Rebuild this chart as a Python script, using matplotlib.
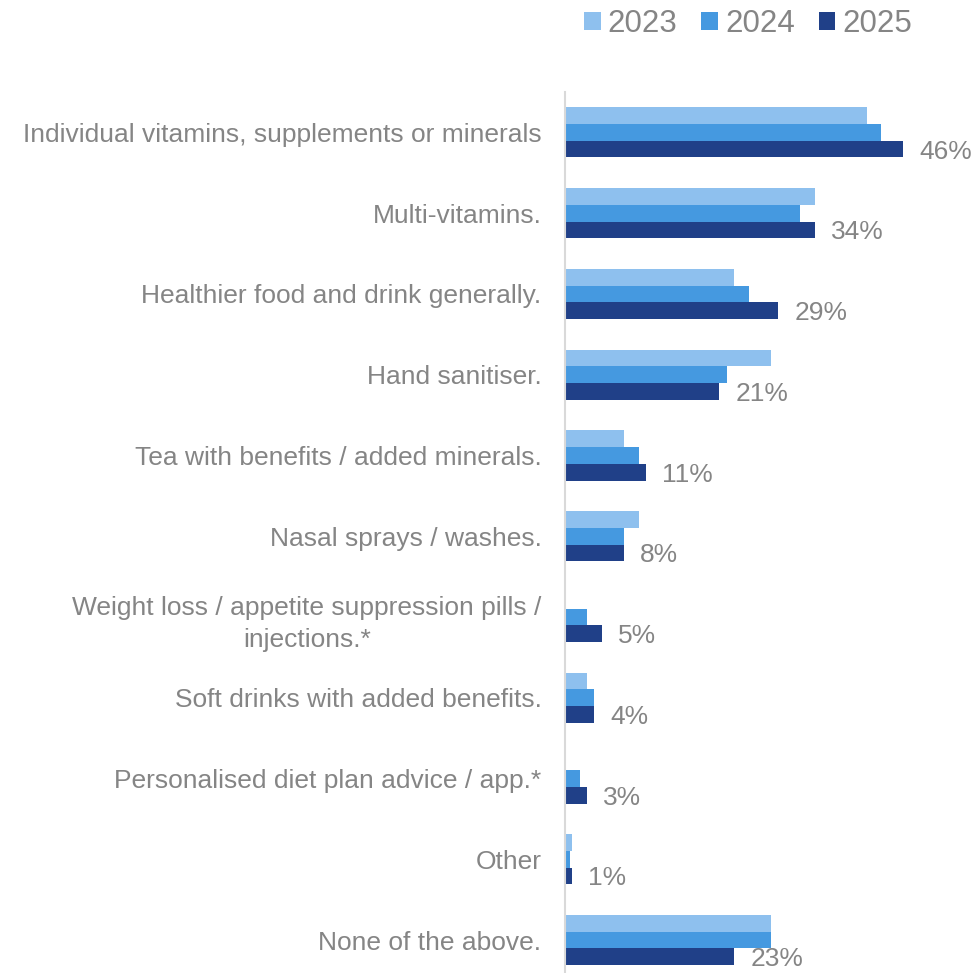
import numpy as np
import matplotlib
matplotlib.use("Agg")
import matplotlib.pyplot as plt

plt.rcParams["font.family"] = ["Liberation Sans", "DejaVu Sans"]

categories = [
    "Individual vitamins, supplements or minerals",
    "Multi-vitamins.",
    "Healthier food and drink generally.",
    "Hand sanitiser.",
    "Tea with benefits / added minerals.",
    "Nasal sprays / washes.",
    "Weight loss / appetite suppression pills /\ninjections.*",
    "Soft drinks with added benefits.",
    "Personalised diet plan advice / app.*",
    "Other",
    "None of the above.",
]
years = ["2023", "2024", "2025"]
values_2023 = [41, 34, 23, 28, 8, 10, np.nan, 3, np.nan, 1, 28]
values_2024 = [43, 32, 25, 22, 10, 8, 3, 4, 2, 0.7, 28]
values_2025 = [46, 34, 29, 21, 11, 8, 5, 4, 3, 1, 23]

colors = ["#8EC0EE", "#4599E0", "#204088"]
text_grey = "#858585"

W, H = 974, 973
fig = plt.figure(figsize=(W / 100, H / 100), dpi=100)

# axes spans from the value axis line down past the bottom edge
ax_left, ax_right = 565, 974
ax_top, ax_bottom = 92, 980.5
ax = fig.add_axes([ax_left / W, (H - ax_bottom) / H,
                   (ax_right - ax_left) / W, (ax_bottom - ax_top) / H])

px_per_unit = 7.355
ax.set_xlim(0, (ax_right - ax_left) / px_per_unit)
n = len(categories)
ax.set_ylim(n - 0.5, -0.5)

y = np.arange(n)
bh = 0.207
series = [values_2023, values_2024, values_2025]
for k, (vals, col, lab) in enumerate(zip(series, colors, years)):
    ax.barh(y + (k - 1) * bh, vals, height=bh, color=col, label=lab,
            edgecolor="none")

# value labels next to the 2025 bars
for yi, v in zip(y, values_2025):
    ax.text(v + 16 / px_per_unit, yi + bh + 0.03, f"{v:.0f}%", ha="left",
            va="center", fontsize=19, color=text_grey)

ax.set_yticks(y)
ax.set_yticklabels(categories, fontsize=19, color=text_grey,
                   multialignment="center", linespacing=1.42)
ax.tick_params(axis="y", length=0, pad=17)
ax.set_xticks([])

for s in ["top", "right", "bottom"]:
    ax.spines[s].set_visible(False)
ax.spines["left"].set_color("#D9D9D9")
ax.spines["left"].set_linewidth(1.5)

fig.legend(loc="center left", bbox_to_anchor=(584 / W, 1 - 24 / H),
           ncol=3, frameon=False, fontsize=22.5, labelcolor=text_grey,
           handlelength=0.54, handleheight=0.54, handletextpad=0.22,
           columnspacing=0.76, borderpad=0, borderaxespad=0)

fig.savefig("out.png", dpi=100, facecolor="white")
